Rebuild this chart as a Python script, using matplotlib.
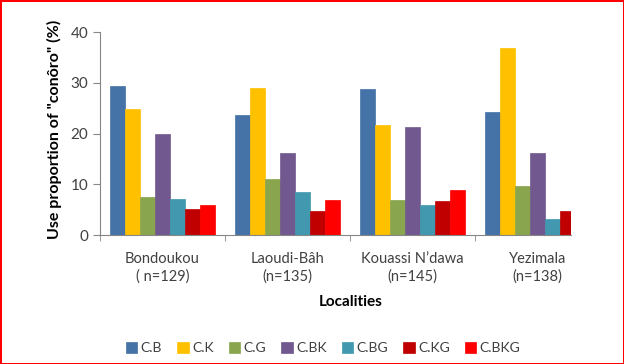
import numpy as np
import matplotlib
matplotlib.use('Agg')
import matplotlib.pyplot as plt

plt.rcParams['font.family'] = ['Lato', 'DejaVu Sans']

# 数据
localities = ['Bondoukou\n( n=129)', 'Laoudi-Bâh\n(n=135)', 'Kouassi N\u2019dawa\n(n=145)', 'Yezimala\n(n=138)']
series = ['C.B', 'C.K', 'C.G', 'C.BK', 'C.BG', 'C.KG', 'C.BKG']
c_b = [29.4, 23.7, 28.8, 24.3]
c_k = [24.9, 29.0, 21.7, 36.9]
c_g = [7.5, 11.1, 6.9, 9.6]
c_bk = [20.0, 16.2, 21.2, 16.2]
c_bg = [7.2, 8.4, 5.9, 3.1]
c_kg = [5.1, 4.7, 6.8, 4.7]
c_bkg = [6.0, 7.0, 8.8, 0.0]
colors = ['#4572A7', '#FFC000', '#89A54E', '#71588F', '#4198AF', '#C00000', '#FF0000']

values = [c_b, c_k, c_g, c_bk, c_bg, c_kg, c_bkg]

fig = plt.figure(figsize=(6.24, 3.64), dpi=100)
fig.patch.set_edgecolor('#FF0000')
fig.patch.set_linewidth(2)
# 绘图区位置（按参考图像素换算）
ax = fig.add_axes([0.160, 0.354, 0.915 - 0.160, 0.558])

x = np.arange(len(localities))
w = 0.12
for i, (name, vals) in enumerate(zip(series, values)):
    ax.bar(x + (i - 3) * w, vals, w, color=colors[i], label=name,
           edgecolor=colors[i], linewidth=0.5)

ax.set_xlim(-0.5, 3.268)
ax.set_ylim(0, 40)
ax.set_yticks([0, 10, 20, 30, 40])
ax.set_xticks(x)
ax.set_xticklabels(localities, fontsize=10.5, color='#404040', linespacing=1.35)
ax.set_xticks([-0.5, 0.5, 1.5, 2.5], minor=True)
ax.tick_params(axis='x', which='major', length=0, pad=12)
ax.tick_params(axis='x', which='minor', length=4, color='#868686')
ax.tick_params(axis='y', length=5, color='#868686', labelsize=11, labelcolor='#404040')

for s in ['top', 'right']:
    ax.spines[s].set_visible(False)
for s in ['left', 'bottom']:
    ax.spines[s].set_color('#868686')

ax.set_ylabel('Use proportion of "conôro" (%)', fontsize=11.5, fontweight='bold')
ax.yaxis.set_label_coords(-0.08, 0.52)
fig.text(351 / 624, 1 - 302 / 364, 'Localities', fontsize=11, fontweight='bold',
         ha='center', va='center')

fig.legend(loc='center', bbox_to_anchor=(0.518, 1 - 348 / 364), ncol=7, frameon=False,
           fontsize=10, handlelength=0.8, handleheight=0.8, handletextpad=0.25,
           columnspacing=1.1, labelcolor='#404040')

fig.savefig('out.png', dpi=100, edgecolor=fig.get_edgecolor())
